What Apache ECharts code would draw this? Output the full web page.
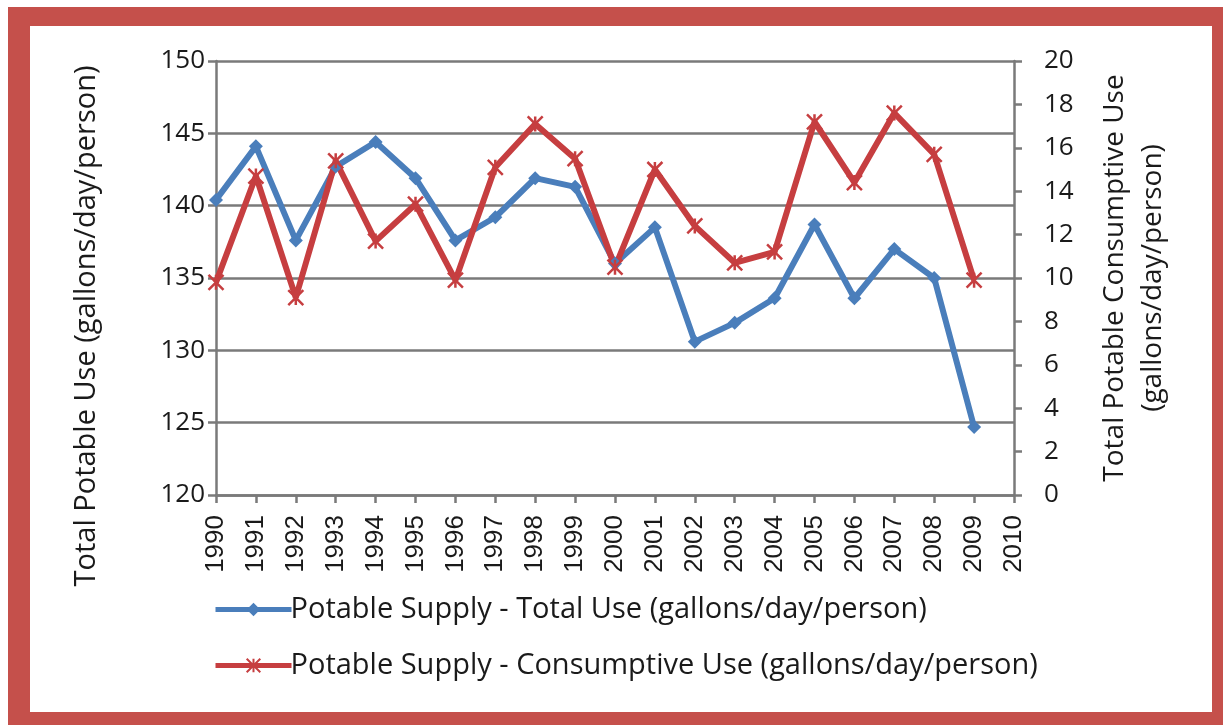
<!DOCTYPE html>
<html>
<head>
<meta charset="utf-8">
<script src="https://cdn.jsdelivr.net/npm/echarts@6/dist/echarts.min.js"></script>
<style>
  html, body { margin: 0; padding: 0; background: #fff; }
  #frame {
    position: absolute; left: 8px; top: 7px; width: 1215px; height: 718px;
    box-sizing: border-box; background: #fff;
    border-style: solid; border-color: #c5504b;
    border-width: 19px 11px 13px 22px;
  }
  #chart { position: absolute; left: 0; top: 0; width: 1223px; height: 725px; }
</style>
</head>
<body>
<div id="frame"></div>
<div id="chart"></div>
<script>
var years = ['1990', '1991', '1992', '1993', '1994', '1995', '1996', '1997', '1998', '1999', '2000',
  '2001', '2002', '2003', '2004', '2005', '2006', '2007', '2008', '2009', '2010'];

// left axis, gallons/day/person
var totalUse = [140.4, 144.1, 137.6, 142.7, 144.4, 141.9, 137.6, 139.2, 141.9, 141.3, 136.0,
  138.5, 130.6, 131.9, 133.6, 138.7, 133.6, 137.0, 135.0, 124.7];

// right axis, gallons/day/person
var consumptiveUse = [9.8, 14.7, 9.1, 15.4, 11.7, 13.4, 9.9, 15.1, 17.1, 15.5, 10.5,
  15.0, 12.4, 10.7, 11.2, 17.2, 14.4, 17.6, 15.7, 9.9];

var FONT = '"Open Sans", "Liberation Sans", sans-serif';
var AXIS_GRAY = '#7a7a7a';
var BLUE = '#4a7ebb';
var RED = '#c63e40';
var TEXT = '#1a1a1a';

// small merge helper
function merge(target) {
  for (var i = 1; i < arguments.length; i++) {
    var src = arguments[i];
    for (var k in src) target[k] = src[k];
  }
  return target;
}

var chart = echarts.init(document.getElementById('chart'), null, { renderer: 'canvas' });

var yAxisBase = {
  type: 'value',
  axisLine: { show: true, lineStyle: { color: AXIS_GRAY, width: 2.5 } },
  axisTick: { show: true, length: 8, lineStyle: { color: AXIS_GRAY, width: 2.5 } },
  axisLabel: { color: TEXT, fontFamily: FONT, fontSize: 26, margin: 11 },
  nameLocation: 'middle',
  nameRotate: 90,
  nameTextStyle: { color: TEXT, fontFamily: FONT, fontSize: 28, lineHeight: 38 }
};

var option = {
  animation: false,
  grid: { left: 216, right: 209, top: 61, bottom: 230, containLabel: false, outerBoundsMode: 'none' },
  legend: {
    orient: 'vertical',
    left: 208,
    top: 590,
    itemWidth: 76,
    itemHeight: 17,
    itemGap: 27,
    lineStyle: { width: 5 },
    textStyle: { color: TEXT, fontFamily: FONT, fontSize: 29, padding: [0, 0, 0, -6] },
    data: [
      'Potable Supply - Total Use (gallons/day/person)',
      'Potable Supply - Consumptive Use (gallons/day/person)'
    ]
  },
  xAxis: {
    type: 'category',
    data: years,
    boundaryGap: false,
    axisLine: { lineStyle: { color: AXIS_GRAY, width: 2.5 } },
    axisTick: { show: true, length: 8, alignWithLabel: true, lineStyle: { color: AXIS_GRAY, width: 2.5 } },
    axisLabel: { rotate: 90, interval: 0, color: TEXT, fontFamily: '"Liberation Sans", Arial, sans-serif', fontSize: 26, margin: 20 },
    splitLine: { show: false }
  },
  yAxis: [
    merge({}, yAxisBase, {
      min: 120, max: 150, interval: 5,
      name: 'Total Potable Use (gallons/day/person)',
      nameGap: 110,
      nameTextStyle: merge({}, yAxisBase.nameTextStyle, { fontSize: 29, padding: [0, 96, 0, 0] }),
      splitLine: { show: true, lineStyle: { color: AXIS_GRAY, width: 2.5 } }
    }),
    merge({}, yAxisBase, {
      min: 0, max: 20, interval: 2,
      position: 'right',
      axisLabel: merge({}, yAxisBase.axisLabel, { margin: 30 }),
      name: 'Total Potable Consumptive Use\n(gallons/day/person)',
      nameGap: 82,
      splitLine: { show: false }
    })
  ],
  series: [
    {
      name: 'Potable Supply - Total Use (gallons/day/person)',
      type: 'line',
      yAxisIndex: 0,
      data: totalUse,
      symbol: 'diamond',
      symbolSize: 14,
      lineStyle: { color: BLUE, width: 6 },
      itemStyle: { color: BLUE }
    },
    {
      name: 'Potable Supply - Consumptive Use (gallons/day/person)',
      type: 'line',
      yAxisIndex: 1,
      data: consumptiveUse,
      symbol: 'path://M0 0L10 10M10 0L0 10M5 0L5 10',
      symbolSize: 15,
      lineStyle: { color: RED, width: 6 },
      itemStyle: { color: RED, borderColor: RED, borderWidth: 2.5 }
    }
  ]
};

chart.setOption(option);
</script>
</body>
</html>
